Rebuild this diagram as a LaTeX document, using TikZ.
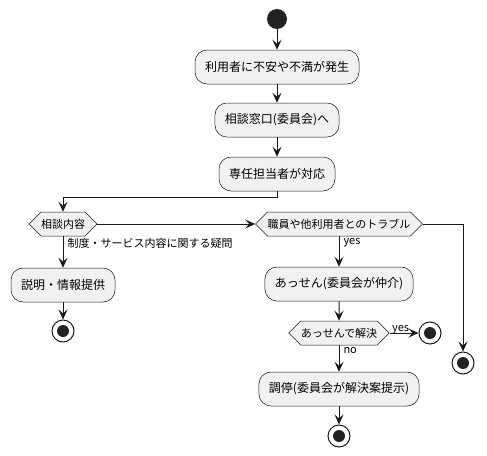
\documentclass[tikz,border=0pt]{standalone}
\usepackage{fontspec}
\setmainfont{Noto Sans CJK JP}
\usetikzlibrary{arrows.meta,shapes.symbols}
\definecolor{umlLine}{HTML}{181818}
\definecolor{umlFill}{HTML}{F1F1F1}
\definecolor{umlDot}{HTML}{222222}

\begin{document}
\begin{tikzpicture}[x=1pt, y=-1pt,
  act/.style={rounded corners=12pt, draw=umlLine, line width=0.5pt, fill=umlFill,
    inner xsep=10pt, minimum height=34pt, font=\fontsize{12}{14}\selectfont},
  dec/.style={signal, signal to=east and west, signal pointer angle=90,
    draw=umlLine, line width=0.5pt, fill=umlFill, inner xsep=0pt, inner ysep=0pt,
    minimum height=24pt, font=\fontsize{11}{13}\selectfont},
  startdot/.style={circle, fill=umlDot, minimum size=20pt, inner sep=0pt},
  enddot/.style={circle, draw=umlLine, line width=1pt, minimum size=22pt, inner sep=0pt,
    path picture={\fill[umlDot] (path picture bounding box.center) circle (6pt);}},
  arr/.style={-{Stealth[length=10pt, width=9pt, inset=4pt]}, line width=1pt, color=umlLine},
  lbl/.style={font=\fontsize{11}{13}\selectfont, inner sep=1pt, text=black}
]
  \useasboundingbox (0,0) rectangle (487,455);

  \node[startdot] (s0) at (277,19) {};
  \node[act] (a1) at (277,67) {利用者に不安や不満が発生};
  \node[act] (a2) at (277,120) {相談窓口(委員会)へ};
  \node[act] (a3) at (277,174) {専任担当者が対応};

  \node[dec] (d1) at (63,224) {相談内容};
  \node[dec] (d2) at (339,224) {職員や他利用者とのトラブル};

  \node[act] (a4) at (63,285) {説明・情報提供};
  \node[enddot] (e1) at (63,331) {};

  \node[act] (a5) at (339,284) {あっせん(委員会が仲介)};
  \node[dec] (d3) at (339,333) {あっせんで解決};
  \node[enddot] (e2) at (430,333) {};
  \node[act] (a6) at (339,389) {調停(委員会が解決案提示)};
  \node[enddot] (e4) at (339,436) {};

  \node[enddot] (e3) at (463,363) {};

  \draw[arr] (s0) -- (a1);
  \draw[arr] (a1) -- (a2);
  \draw[arr] (a2) -- (a3);
  \draw[arr] (a3.south) -- ++(0,6) -| (d1.north);
  \draw[arr] (d1.east) -- (d2.west);
  \draw[arr] (d1.south) -- node[lbl, anchor=north west, pos=0, xshift=3pt, yshift=-1pt] {制度・サービス内容に関する疑問} (a4.north);
  \draw[arr] (a4) -- (e1);
  \draw[arr] (d2.south) -- node[lbl, anchor=north west, pos=0, xshift=3pt, yshift=-1pt] {yes} (a5.north);
  \draw[arr] (a5) -- (d3);
  \draw[arr] (d3.east) -- node[lbl, anchor=south west, pos=0, xshift=1pt, yshift=-3pt] {yes} (e2);
  \draw[arr] (d3.south) -- node[lbl, anchor=north west, pos=0, xshift=3pt, yshift=-1pt] {no} (a6.north);
  \draw[arr] (a6) -- (e4);
  \draw[arr] (d2.east) -| (e3.north);
\end{tikzpicture}
\end{document}
